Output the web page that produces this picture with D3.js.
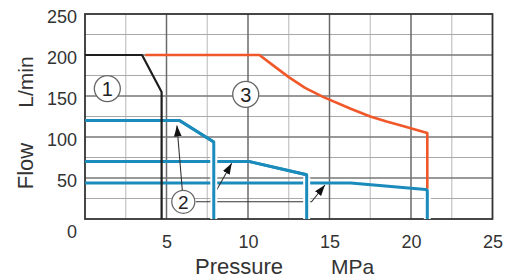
<!DOCTYPE html>
<html><head><meta charset="utf-8">
<script src="https://cdn.jsdelivr.net/npm/d3@7"></script>
<style>html,body{margin:0;padding:0;background:#fff;}svg{display:block;}</style>
</head><body>
<svg id="chart" width="510" height="279"></svg>
<script>
// ---- data ----
const xTicks = [0, 5, 10, 15, 20, 25];
const yTicks = [0, 50, 100, 150, 200, 250];
const xMinor = [2.5, 7.5, 12.5, 17.5, 22.5];
const yMinor = [25, 75, 125, 175, 225];
const xTitle = "Pressure";
const xUnit = "MPa";
const yTitle = "Flow";
const yUnit = "L/min";

// curve 1 (black)
const c1P = [0, 3.5, 4.7, 4.7];
const c1Q = [200, 200, 155, 0];
// curve 3 (orange)
const c3P = [3.7, 10.7, 11.5, 12.5, 13.5, 14.6, 16.3, 17.5, 18.5, 19.5, 21.0, 21.0];
const c3Q = [200, 200, 188, 173, 160, 149, 134.5, 125, 119, 113.5, 105, 37];
// curve 2 (blue) – three variants
const c2aP = [0, 5.8, 7.9, 7.9];
const c2aQ = [120, 120, 94, 0];
const c2bP = [0, 10.1, 13.6, 13.6];
const c2bQ = [70, 70, 54, 0];
const c2cP = [0, 16.3, 20.9, 21.0, 21.0];
const c2cQ = [44, 44, 36, 35, 0];

// annotation labels (data coords)
const labelText = ["1", "2", "3"];
const labelP = [1.37, 6.03, 9.86];
const labelQ = [159, 21, 152];
// leader arrows from label 2: start, bend, tip
const arrowP = [[5.97, 5.97, 5.64], [6.8, 7.67, 9.0], [7.67, 13.9, 14.72]];
const arrowQ = [[35, 35, 114], [21, 21, 68], [21, 21, 41.5]];

// ---- drawing ----
const svg = d3.select("#chart");
const x = d3.scaleLinear().domain([0, 25]).range([85, 492.5]);
const y = d3.scaleLinear().domain([0, 250]).range([219, 14]);
const font = "'Liberation Sans', Arial, sans-serif";

const g = svg.append("g");
// minor grid
g.selectAll(".vminor").data(xMinor).enter().append("line")
  .attr("x1", d => x(d)).attr("x2", d => x(d)).attr("y1", y(0)).attr("y2", y(250))
  .attr("stroke", "#c4c4c4").attr("stroke-width", 1.2);
g.selectAll(".hminor").data(yMinor).enter().append("line")
  .attr("x1", x(0)).attr("x2", x(25)).attr("y1", d => y(d)).attr("y2", d => y(d))
  .attr("stroke", "#a8a8a8").attr("stroke-width", 1.2);
// major grid
g.selectAll(".vmajor").data(xTicks.slice(1, -1)).enter().append("line")
  .attr("x1", d => x(d)).attr("x2", d => x(d)).attr("y1", y(0)).attr("y2", y(250))
  .attr("stroke", "#6a6a6a").attr("stroke-width", 1.5);
g.selectAll(".hmajor").data(yTicks.slice(1, -1)).enter().append("line")
  .attr("x1", x(0)).attr("x2", x(25)).attr("y1", d => y(d)).attr("y2", d => y(d))
  .attr("stroke", "#777").attr("stroke-width", 1.5);
// border
g.append("rect").attr("x", x(0)).attr("y", y(250))
  .attr("width", x(25) - x(0)).attr("height", y(0) - y(250))
  .attr("fill", "none").attr("stroke", "#333").attr("stroke-width", 1.8);

// axes tick labels using d3 axes
const xAxis = d3.axisBottom(x).tickValues(xTicks.slice(1)).tickSize(0).tickPadding(0);
const xa = svg.append("g").attr("transform", `translate(0,${248})`).call(xAxis);
xa.select(".domain").remove();
xa.selectAll("text").attr("dy", 0).attr("y", 0)
  .attr("font-family", font).attr("font-size", 18).attr("fill", "#333");

const yAxis = d3.axisLeft(y).tickValues(yTicks.slice(1)).tickSize(0).tickPadding(0);
const ya = svg.append("g").attr("transform", `translate(77,0)`).call(yAxis);
ya.select(".domain").remove();
ya.selectAll("text").attr("dy", "0.36em").attr("x", 0)
  .attr("transform", "translate(0,2)")
  .attr("font-family", font).attr("font-size", 18).attr("fill", "#333");
// origin label
svg.append("text").attr("x", 77).attr("y", 238).attr("text-anchor", "end")
  .attr("font-family", font).attr("font-size", 18).attr("fill", "#333").text(yTicks[0]);

// axis titles
svg.append("text").attr("x", 195).attr("y", 274).attr("font-family", font)
  .attr("font-size", 22).attr("fill", "#333").text(xTitle);
svg.append("text").attr("x", 331).attr("y", 274).attr("font-family", font)
  .attr("font-size", 21).attr("fill", "#333").text(xUnit);
svg.append("text").attr("transform", "translate(33,82) rotate(-90)")
  .attr("text-anchor", "middle").attr("font-family", font)
  .attr("font-size", 21).attr("fill", "#333").text(yUnit);
svg.append("text").attr("transform", "translate(33,166) rotate(-90)")
  .attr("text-anchor", "middle").attr("font-family", font)
  .attr("font-size", 22).attr("fill", "#333").text(yTitle);

// curves
const line = d3.line().x(d => x(d[0])).y(d => y(d[1]));
const zip = (P, Q) => P.map((p, i) => [p, Q[i]]);
function stroke(pts, color, w) {
  svg.append("path").attr("d", line(pts)).attr("fill", "none")
    .attr("stroke", color).attr("stroke-width", w).attr("stroke-linejoin", "round");
}
const blue = "#1a8bbb";
stroke(zip(c3P, c3Q), "#f0582a", 2.6);
// blue curves: upper parts first, then vertical drops with white halo
const blues = [[c2cP, c2cQ], [c2bP, c2bQ], [c2aP, c2aQ]];
blues.forEach(([P, Q]) => stroke(zip(P, Q).slice(0, -1), blue, 3));

// leader arrows
svg.append("defs").append("marker").attr("id", "ah")
  .attr("viewBox", "0 0 10 10").attr("refX", 10).attr("refY", 5)
  .attr("markerWidth", 11).attr("markerHeight", 11).attr("markerUnits", "userSpaceOnUse")
  .attr("orient", "auto")
  .append("path").attr("d", "M0,1.5 L10,5 L0,8.5 Z").attr("fill", "#111");
arrowP.forEach((P, i) => {
  const pts = zip(P, arrowQ[i]);
  svg.append("path").attr("d", line(pts)).attr("fill", "none")
    .attr("stroke", "#333").attr("stroke-width", 1.1).attr("marker-end", "url(#ah)");
});

blues.forEach(([P, Q]) => {
  const pts = zip(P, Q).slice(-2);
  const p0 = [pts[0][0], pts[0][1] - 3];
  stroke([p0, pts[1]], "#fff", 7);
  stroke(zip(P, Q).slice(-3), blue, 3);
});
stroke(zip(c1P, c1Q), "#1e1e1e", 2.2);

// circled labels
labelText.forEach((t, i) => {
  const cx = x(labelP[i]), cy = y(labelQ[i]);
  const r = i === 1 ? 11.5 : 13;
  svg.append("circle").attr("cx", cx).attr("cy", cy).attr("r", r)
    .attr("fill", "#fff").attr("stroke", "#666").attr("stroke-width", 1.3);
  svg.append("text").attr("x", cx).attr("y", cy).attr("dy", "0.36em")
    .attr("text-anchor", "middle").attr("font-family", font)
    .attr("font-size", i === 1 ? 19 : 20).attr("fill", "#222")
    .text(t);
});
</script>
</body></html>
